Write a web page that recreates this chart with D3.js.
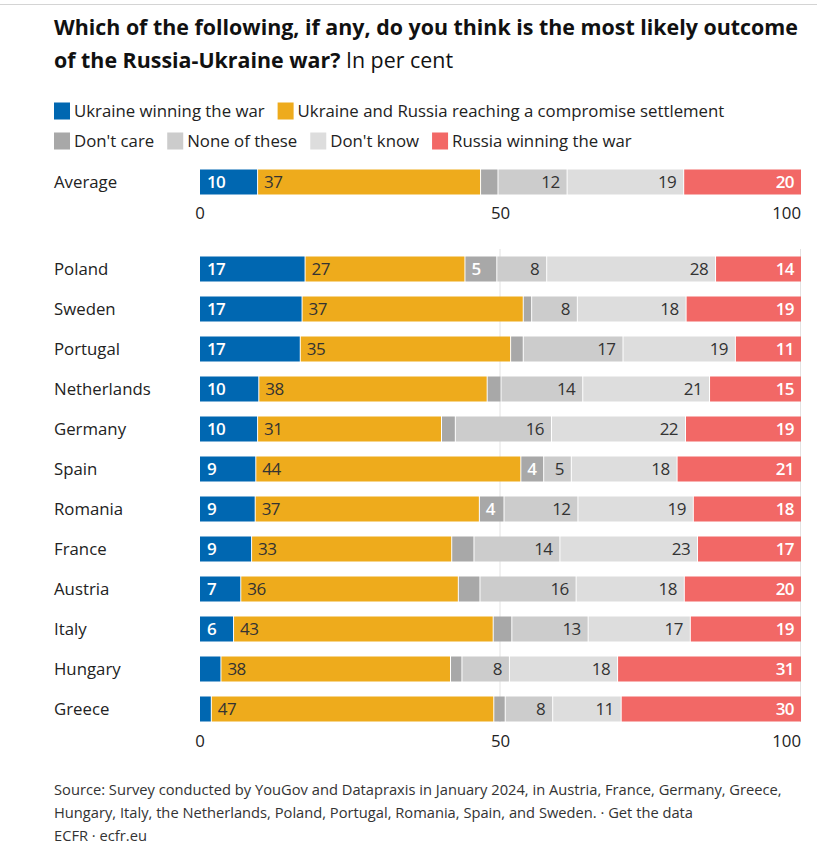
<!DOCTYPE html>
<html>
<head>
<meta charset="utf-8">
<script src="https://cdn.jsdelivr.net/npm/d3@7"></script>
<style>
  body { margin: 0; background: #fff; }
  svg { display: block; font-family: "Open Sans", Lato, sans-serif; }
</style>
</head>
<body>
<svg width="817" height="857"></svg>
<script>
const width = 817, height = 857;

// Categories and series (per cent)
const series = ["Ukraine winning the war", "Ukraine and Russia reaching a compromise settlement",
    "Don't care", "None of these", "Don't know", "Russia winning the war"];
const colors = ["#0067b1", "#eeab1c", "#a8a8a8", "#cccccc", "#dddddd", "#f26866"];
const labelColors = ["#fff", "#333", "#fff", "#333", "#333", "#fff"];
const labelAlign = ["start", "start", "start", "end", "end", "end"];

const average = [9.5, 37.1, 2.9, 11.5, 19.4, 19.6];

const countries = ["Poland", "Sweden", "Portugal", "Netherlands", "Germany", "Spain",
    "Romania", "France", "Austria", "Italy", "Hungary", "Greece"];
const ukraineWin = [17.4, 16.9, 16.6, 9.7, 9.5, 9.2, 9.1, 8.5, 6.7, 5.5, 3.4, 1.8];
const compromise = [26.6, 36.8, 35.0, 38.0, 30.6, 44.1, 37.3, 33.3, 36.2, 43.2, 38.2, 47.0];
const dontCare = [5.3, 1.4, 2.1, 2.3, 2.3, 3.8, 4.1, 3.7, 3.6, 3.1, 1.9, 1.9];
const noneOfThese = [8.3, 7.6, 16.6, 13.6, 16.0, 4.6, 12.3, 14.3, 16.0, 12.7, 7.9, 7.9];
const dontKnow = [28.1, 18.1, 18.7, 21.1, 22.3, 17.6, 19.2, 22.9, 18.0, 17.0, 18.0, 11.4];
const russiaWin = [14.3, 19.2, 11.0, 15.3, 19.3, 20.7, 18.0, 17.3, 19.5, 18.5, 30.6, 30.0];

const ticks = [0, 50, 100];

const svg = d3.select("svg").attr("viewBox", [0, 0, width, height]);

const x = d3.scaleLinear().domain([0, 100]).range([200, 801]);
const y = d3.scaleBand().domain(countries).range([249, 729])
    .paddingInner(0.375).paddingOuter(0.1875);
const barH = y.bandwidth();

// top rule
svg.append("line").attr("x1", 0).attr("x2", width).attr("y1", 4.5).attr("y2", 4.5)
    .attr("stroke", "#d4d4d4");

// title
const title = svg.append("text").attr("x", 54).attr("y", 35)
    .attr("font-size", 21.4).attr("fill", "#111");
title.append("tspan").attr("font-weight", 700)
    .text("Which of the following, if any, do you think is the most likely outcome");
const t2 = svg.append("text").attr("x", 54).attr("y", 68)
    .attr("font-size", 21.4).attr("fill", "#111");
t2.append("tspan").attr("font-weight", 700).text("of the Russia-Ukraine war?");
t2.append("tspan").attr("font-weight", 400).text(" In per cent");

// legend
const legendRows = [[0, 1], [2, 3, 4, 5]];
legendRows.forEach((row, r) => {
    let lx = 54;
    const ly = 111 + r * 30;
    row.forEach(i => {
        svg.append("rect").attr("x", lx).attr("y", ly - 8.5).attr("width", 16).attr("height", 17)
            .attr("fill", colors[i]);
        const t = svg.append("text").attr("x", lx + 20).attr("y", ly).attr("dy", "0.35em")
            .attr("font-size", 16.8).attr("fill", "#222").text(series[i]);
        lx += 20 + t.node().getComputedTextLength() + 13;
    });
});

function stackRow(values) {
    let acc = 0;
    return values.map((v, i) => {
        const d = {i, v, x0: acc, x1: acc + v};
        acc += v;
        return d;
    });
}

function drawRow(g, values, cy) {
    const segs = stackRow(values);
    g.selectAll("rect")
        .data(segs)
        .join("rect")
        .attr("x", d => x(d.x0) + (d.i > 0 ? 1 : 0))
        .attr("width", d => Math.max(0, x(d.x1) - x(d.x0) - (d.i > 0 ? 1 : 0)))
        .attr("y", cy - barH / 2)
        .attr("height", barH)
        .attr("fill", d => colors[d.i]);

    g.selectAll("text")
        .data(segs.filter(d => x(d.x1) - x(d.x0) > 22.5))
        .join("text")
        .attr("x", d => labelAlign[d.i] === "start" ? x(d.x0) + 7 : x(d.x1) - 7)
        .attr("y", cy)
        .attr("dy", "0.36em")
        .attr("text-anchor", d => labelAlign[d.i])
        .attr("font-size", 17)
        .attr("letter-spacing", -0.6)
        .attr("fill", d => labelColors[d.i])
        .attr("font-weight", d => labelColors[d.i] === "#fff" ? 600 : 400)
        .text(d => Math.round(d.v));
}

function drawTicks(ty) {
    svg.append("g").selectAll("text")
        .data(ticks)
        .join("text")
        .attr("x", d => x(d))
        .attr("y", ty)
        .attr("dy", "0.35em")
        .attr("text-anchor", d => d === 100 ? "end" : "middle")
        .attr("font-size", 16.8)
        .attr("fill", "#222")
        .text(d => d);
}

// average row
const avgY = 182;
svg.append("text").attr("x", 54).attr("y", avgY).attr("dy", "0.35em")
    .attr("font-size", 16.8).attr("fill", "#222").text("Average");
drawRow(svg.append("g"), average, avgY);
drawTicks(213);

// gridlines behind countries
svg.append("g").selectAll("line")
    .data([50, 100])
    .join("line")
    .attr("x1", d => x(d) - 0.5).attr("x2", d => x(d) - 0.5)
    .attr("y1", 249).attr("y2", 722)
    .attr("stroke", "#e2e2e2");

// country rows
const table = countries.map((c, k) => ({
    country: c,
    values: [ukraineWin[k], compromise[k], dontCare[k], noneOfThese[k], dontKnow[k], russiaWin[k]]
}));

const rows = svg.append("g").selectAll("g")
    .data(table)
    .join("g");

rows.append("text")
    .attr("x", 54)
    .attr("y", d => y(d.country) + barH / 2)
    .attr("dy", "0.35em")
    .attr("font-size", 16.8)
    .attr("fill", "#222")
    .text(d => d.country);

rows.each(function (d) {
    drawRow(d3.select(this).append("g"), d.values, y(d.country) + barH / 2);
});

drawTicks(741);

// source
const notes = [
    "Source: Survey conducted by YouGov and Datapraxis in January 2024, in Austria, France, Germany, Greece,",
    "Hungary, Italy, the Netherlands, Poland, Portugal, Romania, Spain, and Sweden. \u00b7 Get the data",
    "ECFR \u00b7 ecfr.eu"
];
svg.append("g").selectAll("text")
    .data(notes)
    .join("text")
    .attr("x", 54)
    .attr("y", (d, i) => 790 + i * 23)
    .attr("dy", "0.35em")
    .attr("font-size", 14.7)
    .attr("fill", "#333")
    .text(d => d);
</script>
</body>
</html>
